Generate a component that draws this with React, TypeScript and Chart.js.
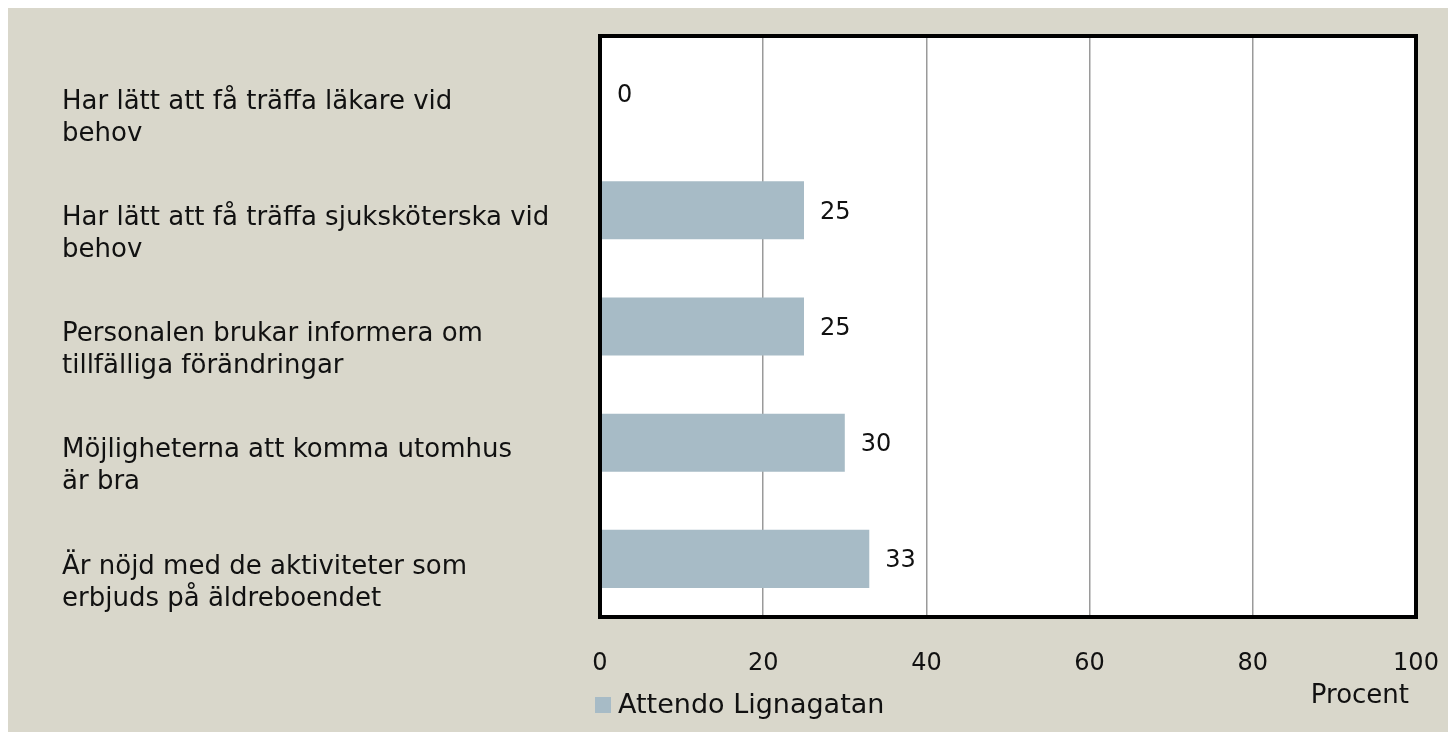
import React, { useEffect, useRef } from "react";
import { Chart, registerables } from "chart.js";

Chart.register(...registerables);

const categories: string[][] = [
  ["Har lätt att få träffa läkare vid", "behov"],
  ["Har lätt att få träffa sjuksköterska vid", "behov"],
  ["Personalen brukar informera om", "tillfälliga förändringar"],
  ["Möjligheterna att komma utomhus", "är bra"],
  ["Är nöjd med de aktiviteter som", "erbjuds på äldreboendet"],
];
const seriesName = "Attendo Lignagatan";
const values: number[] = [0, 25, 25, 30, 33];
const xTicks: number[] = [0, 20, 40, 60, 80, 100];
const axisTitle = "Procent";

const FONT = "'DejaVu Sans', sans-serif";
const BG = "#d9d7cb";
const BAR = "#a7bbc6";
const TEXT = "#111";

export default function App() {
  const ref = useRef<HTMLCanvasElement | null>(null);
  useEffect(() => {
    if (!ref.current) return;
    const bgPlugin = {
      id: "bg",
      beforeDraw(chart: any) {
        const c = chart.ctx;
        c.save();
        c.fillStyle = BG;
        c.fillRect(0, 0, chart.width, chart.height);
        const a = chart.chartArea;
        c.fillStyle = "#ffffff";
        c.fillRect(a.left, a.top, a.right - a.left, a.bottom - a.top);
        c.restore();
      },
      afterDraw(chart: any) {
        const c = chart.ctx;
        const a = chart.chartArea;
        c.save();
        c.strokeStyle = "#000";
        c.lineWidth = 4;
        c.strokeRect(a.left, a.top, a.right - a.left, a.bottom - a.top);
        // data labels
        const meta = chart.getDatasetMeta(0);
        c.fillStyle = TEXT;
        c.font = `24px ${FONT}`;
        c.textAlign = "left";
        c.textBaseline = "middle";
        meta.data.forEach((el: any, i: number) => {
          const v = chart.data.datasets[0].data[i];
          c.fillText(String(v), el.x + (v === 0 ? 17 : 16), el.y + 2);
        });
        // legend
        const lx = a.left - 5;
        const cy = 697;
        c.fillStyle = BAR;
        c.fillRect(lx, cy - 8, 16, 16);
        c.fillStyle = TEXT;
        c.font = `27px ${FONT}`;
        c.fillText(chart.data.datasets[0].label, lx + 23, cy + 1);
        // axis title
        c.textAlign = "right";
        c.font = `26px ${FONT}`;
        c.fillText(axisTitle, a.right - 7, 688);
        c.restore();
      },
    };
    const chart = new Chart(ref.current, {
      type: "bar",
      data: {
        labels: categories,
        datasets: [
          {
            label: seriesName,
            data: values,
            backgroundColor: BAR,
            barPercentage: 0.5,
            categoryPercentage: 1,
          },
        ],
      },
      options: {
        indexAxis: "y",
        animation: false,
        responsive: true,
        maintainAspectRatio: false,
        layout: { padding: { left: 54, top: 28, right: 32, bottom: 21 } },
        plugins: { legend: { display: false }, tooltip: { enabled: false } },
        scales: {
          x: {
            min: 0,
            max: 100,
            afterBuildTicks(axis: any) {
              axis.ticks = xTicks.map((v) => ({ value: v }));
            },
            afterFit(axis: any) {
              axis.paddingLeft = 0;
              axis.paddingRight = 0;
              axis.height = 94;
            },
            grid: { color: "#9a9a9a", lineWidth: 1.5, drawTicks: false },
            border: { display: false },
            ticks: { color: TEXT, font: { family: FONT, size: 24 }, padding: 32 },
          },
          y: {
            grid: { display: false },
            border: { display: false },
            afterFit(axis: any) {
              axis.width = 538;
              axis.paddingTop = 0;
              axis.paddingBottom = 0;
            },
            ticks: {
              crossAlign: "far",
              color: TEXT,
              labelOffset: 24,
              font: { family: FONT, size: 26, lineHeight: 1.23 },
            },
          },
        },
      },
      plugins: [bgPlugin],
    });
    return () => chart.destroy();
  }, []);
  return (
    <div style={{ width: 1440, height: 724 }}>
      <canvas ref={ref} />
    </div>
  );
}
